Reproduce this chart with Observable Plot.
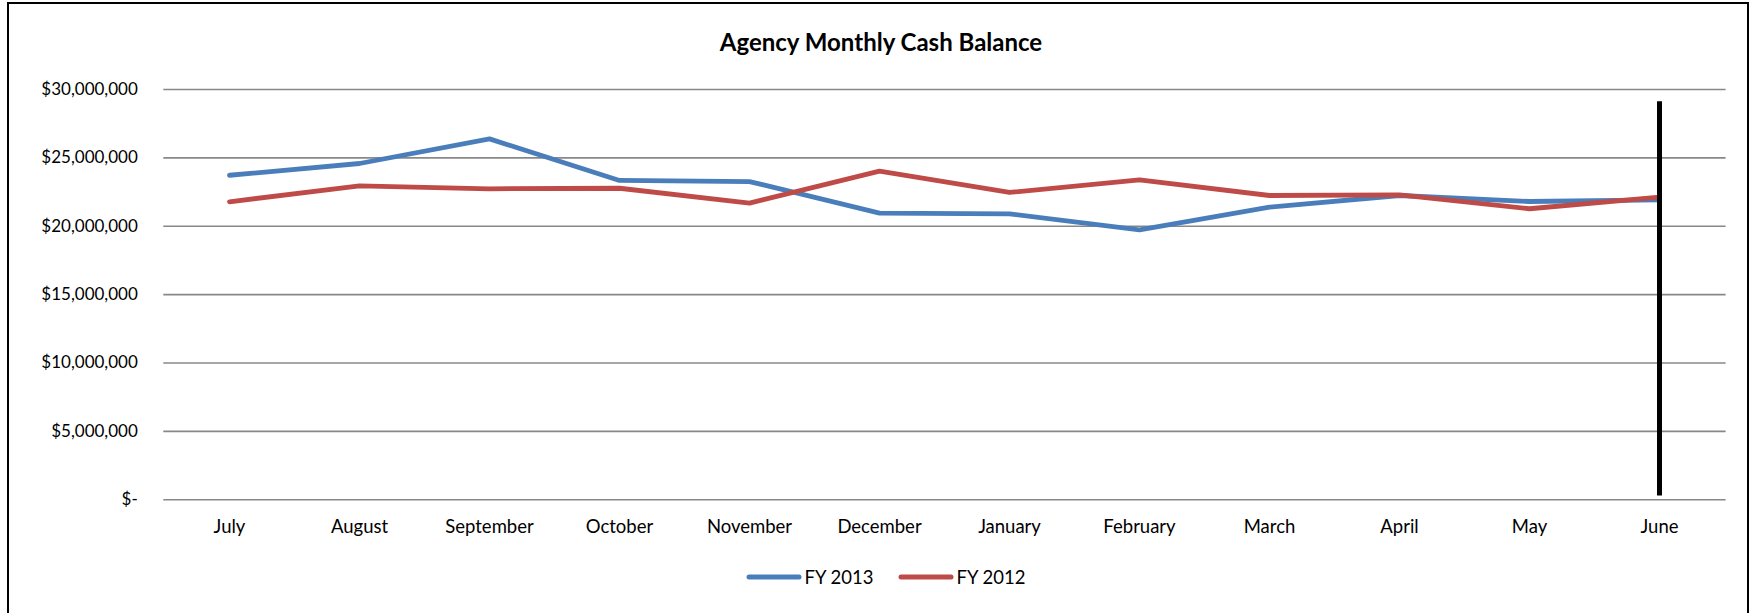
<!DOCTYPE html>
<html>
<head>
<meta charset="utf-8">
<script src="https://cdn.jsdelivr.net/npm/d3@7"></script>
<script src="https://cdn.jsdelivr.net/npm/@observablehq/plot@0.6"></script>
<style>
  html, body { margin: 0; padding: 0; background: #fff; }
  #wrap { position: relative; width: 1754px; height: 613px; overflow: hidden; font-family: Lato, "Open Sans", sans-serif; color: #000; }
  #frame { position: absolute; left: 7px; top: 2px; width: 1742px; height: 640px; border: 2px solid #000; box-sizing: border-box; pointer-events: none; }
  #title { height: 60px; box-sizing: border-box; padding-top: 29px; padding-left: 8px; text-align: center; font-weight: bold; font-size: 24px; line-height: 25px; }
  #legend { height: 54px; display: flex; justify-content: center; align-items: center; padding-left: 17px; box-sizing: border-box; font-size: 18.5px; }
  .item { display: flex; align-items: center; margin: 0 12px; }
  .item svg { margin-right: 3px; }
  svg.plot { display: block; }
</style>
</head>
<body>
<div id="wrap">
  <div id="title"></div>
  <div id="chart"></div>
  <div id="legend"></div>
  <div id="frame"></div>
</div>
<script>
const title = "Agency Monthly Cash Balance";
const months = ["July", "August", "September", "October", "November", "December", "January", "February", "March", "April", "May", "June"];
const seriesNames = ["FY 2013", "FY 2012"];
const seriesColors = ["#4a7ebb", "#be4b48"];
const fy2013 = [23730000, 24590000, 26390000, 23350000, 23270000, 20960000, 20910000, 19740000, 21400000, 22250000, 21810000, 21930000];
const fy2012 = [21790000, 22960000, 22740000, 22780000, 21690000, 24030000, 22470000, 23400000, 22250000, 22300000, 21280000, 22130000];
const yTicks = [0, 5000000, 10000000, 15000000, 20000000, 25000000, 30000000];
const yTickLabels = ["$-", "$5,000,000", "$10,000,000", "$15,000,000", "$20,000,000", "$25,000,000", "$30,000,000"];
// hand-drawn vertical marker at June
const markerMonth = ["June"];
const markerTop = [29140000];
const markerBottom = [310000];

const rows = [
  ...months.map((m, i) => ({month: m, value: fy2013[i], series: seriesNames[0]})),
  ...months.map((m, i) => ({month: m, value: fy2012[i], series: seriesNames[1]}))
];
const marker = markerMonth.map((m, i) => ({month: m, y1: markerTop[i], y2: markerBottom[i]}));

document.getElementById("title").textContent = title;

const chart = Plot.plot({
  width: 1754,
  height: 490,
  marginTop: 29,
  marginBottom: 50.7,
  marginLeft: 163.3,
  marginRight: 28.4,
  style: {fontFamily: "Lato, 'Open Sans', sans-serif", fontSize: "17px", color: "#000", background: "transparent"},
  x: {type: "point", domain: months, padding: 0.5},
  y: {domain: [0, 30000000]},
  color: {domain: seriesNames, range: seriesColors},
  marks: [
    Plot.ruleY(yTicks, {stroke: "#888888", strokeWidth: 1.6}),
    Plot.axisY({ticks: yTicks, tickSize: 0, tickPadding: 26, tickFormat: d => yTickLabels[yTicks.indexOf(d)], label: null, fill: "#000"}),
    Plot.axisX({tickSize: 0, tickPadding: 20, label: null, fill: "#000", fontSize: 18.5}),
    Plot.line(rows, {x: "month", y: "value", z: "series", stroke: "series", strokeWidth: 4.8, strokeLinejoin: "round", strokeLinecap: "round"}),
    Plot.link(marker, {x1: "month", x2: "month", y1: "y1", y2: "y2", stroke: "#000", strokeWidth: 5, strokeLinecap: "butt"})
  ]
});
document.getElementById("chart").appendChild(chart);

const legend = document.getElementById("legend");
seriesNames.forEach((name, i) => {
  const item = document.createElement("div");
  item.className = "item";
  item.innerHTML = `<svg width="56" height="8"><line x1="3" y1="4" x2="53" y2="4" stroke="${seriesColors[i]}" stroke-width="5" stroke-linecap="round"/></svg><span>${name}</span>`;
  legend.appendChild(item);
});
</script>
</body>
</html>
